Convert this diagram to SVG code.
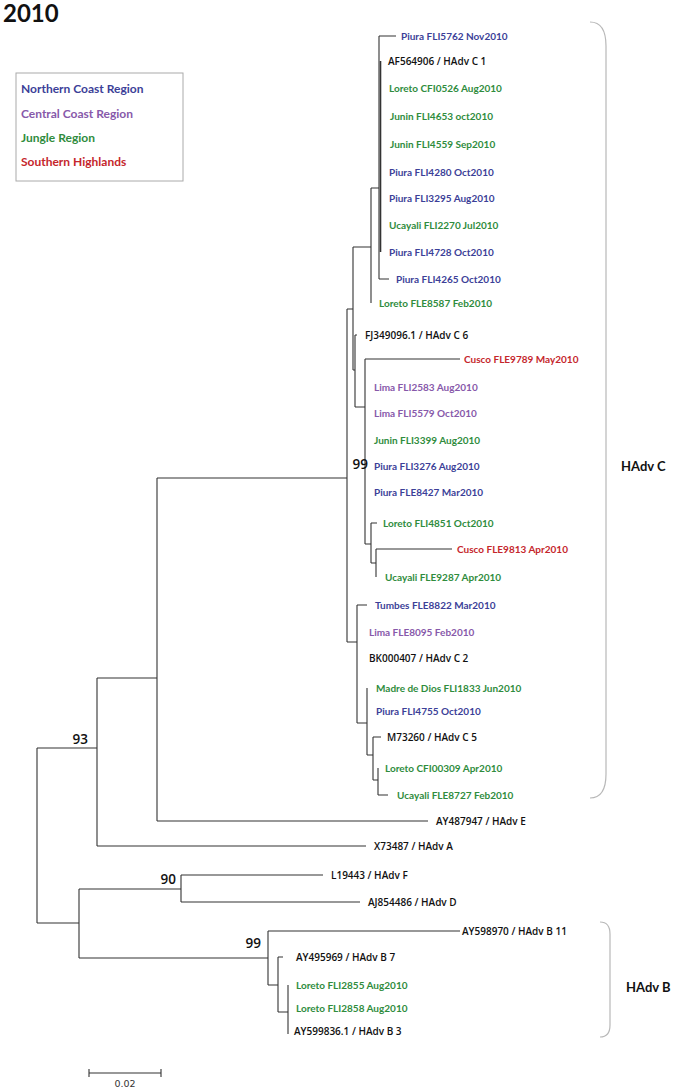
<svg xmlns="http://www.w3.org/2000/svg" width="674" height="1092" viewBox="0 0 674 1092">
<style>
text{font-family:Lato,"Liberation Sans",sans-serif;font-weight:700}
.lf{font-size:10px}
.bk{font-family:"Open Sans","Liberation Sans",sans-serif;font-weight:600;font-size:10px;fill:#111}
.nb{fill:#3c3f98}
.cc{fill:#8759aa}
.jg{fill:#2f8c3d}
.sh{fill:#c5262c}
.bs{font-family:"Open Sans","Liberation Sans",sans-serif;font-weight:600;font-size:13.5px;fill:#111;text-anchor:end}
.lg{font-size:12px}
.br{fill:none;stroke:#b8b8b8;stroke-width:1.2}
.cl{font-size:13px;fill:#111}
.tr{fill:none;stroke:#333;stroke-width:1.1}
</style>
<rect width="674" height="1092" fill="#fff"/>
<text x="3" y="22" style="font-size:24px;fill:#111">2010</text>
<g id="legend">
<rect x="16" y="73" width="167" height="108" fill="#fff" stroke="#aaa" stroke-width="1"/>
<text class="lg nb" x="21" y="93">Northern Coast Region</text>
<text class="lg cc" x="21" y="118">Central Coast Region</text>
<text class="lg jg" x="21" y="142">Jungle Region</text>
<text class="lg sh" x="21" y="166">Southern Highlands</text>
</g>
<g id="connectors" class="tr">
<path d="M37 748V923M37 748H97M37 923H79"/>
<path d="M97 678V846M97 678H157M97 846H366"/>
<path d="M157 478V821M157 478H347M157 821H428"/>
<path d="M347 309V642M347 309H353M347 642H357"/>
<path d="M353 247V370M353 247H371M353 370H355"/>
<path d="M371 188V303M371 188H379"/>
<path d="M379 36V279M379 36H396M379 279H389"/>
<path d="M380.5 61V252" style="stroke-width:1.6"/>
<path d="M355 335V407M355 335H357M355 407H365"/>
<path d="M365 359V544M365 359H460M365 544H371"/>
<path d="M371 523V563M371 523H377M371 563H376"/>
<path d="M376 549V577M376 549H452"/>
<path d="M357 605V723M357 605H367M357 723H367"/>
<path d="M367 688V755M367 755H373"/>
<path d="M373 737V780M373 737H381M373 780H378"/>
<path d="M378 768V795M378 795H388"/>
<path d="M79 889V958M79 889H181M79 958H268"/>
<path d="M181 875V902M181 875H323M181 902H360"/>
<path d="M268 931V985M268 931H460M268 985H278"/>
<path d="M278 957V1012M278 957H283M278 1012H288"/>
<path d="M288 985V1034"/>
</g>
<g id="bootstrap">
<text class="bs" x="88" y="744">93</text>
<text class="bs" x="368" y="469">99</text>
<text class="bs" x="176" y="884">90</text>
<text class="bs" x="261" y="948">99</text>
</g>
<g id="leaves">
<text class="lf nb" x="401" y="39.5">Piura FLI5762 Nov2010</text>
<text class="bk" x="388" y="65">AF564906 / HAdv C 1</text>
<text class="lf jg" x="389" y="91.5">Loreto CFI0526 Aug2010</text>
<text class="lf jg" x="390" y="119.5">Junin FLI4653 oct2010</text>
<text class="lf jg" x="390" y="147.5">Junin FLI4559 Sep2010</text>
<text class="lf nb" x="389" y="175.5">Piura FLI4280 Oct2010</text>
<text class="lf nb" x="389" y="201.5">Piura FLI3295 Aug2010</text>
<text class="lf jg" x="389" y="228.5">Ucayali FLI2270 Jul2010</text>
<text class="lf nb" x="389" y="255.5">Piura FLI4728 Oct2010</text>
<text class="lf nb" x="396" y="282.5">Piura FLI4265 Oct2010</text>
<text class="lf jg" x="379" y="306.5">Loreto FLE8587 Feb2010</text>
<text class="bk" x="365" y="338.5">FJ349096.1 / HAdv C 6</text>
<text class="lf sh" x="464" y="362.5">Cusco FLE9789 May2010</text>
<text class="lf cc" x="374" y="390.5">Lima FLI2583 Aug2010</text>
<text class="lf cc" x="374" y="416.5">Lima FLI5579 Oct2010</text>
<text class="lf jg" x="374" y="443.5">Junin FLI3399 Aug2010</text>
<text class="lf nb" x="374" y="469.5">Piura FLI3276 Aug2010</text>
<text class="lf nb" x="374" y="495.5">Piura FLE8427 Mar2010</text>
<text class="lf jg" x="383" y="526.5">Loreto FLI4851 Oct2010</text>
<text class="lf sh" x="457" y="552.5">Cusco FLE9813 Apr2010</text>
<text class="lf jg" x="385" y="580.5">Ucayali FLE9287 Apr2010</text>
<text class="lf nb" x="375" y="608.5">Tumbes FLE8822 Mar2010</text>
<text class="lf cc" x="369" y="635.5">Lima FLE8095 Feb2010</text>
<text class="bk" x="369" y="661.5">BK000407 / HAdv C 2</text>
<text class="lf jg" x="376" y="691.5">Madre de Dios FLI1833 Jun2010</text>
<text class="lf nb" x="376" y="714.5">Piura FLI4755 Oct2010</text>
<text class="bk" x="387" y="740.5">M73260 / HAdv C 5</text>
<text class="lf jg" x="385" y="771.5">Loreto CFI00309 Apr2010</text>
<text class="lf jg" x="397" y="798.5">Ucayali FLE8727 Feb2010</text>
<text class="bk" x="436" y="824.5">AY487947 / HAdv E</text>
<text class="bk" x="374" y="849.5">X73487 / HAdv A</text>
<text class="bk" x="331" y="878.5">L19443 / HAdv F</text>
<text class="bk" x="368" y="905.5">AJ854486 / HAdv D</text>
<text class="bk" x="462" y="934.5">AY598970 / HAdv B 11</text>
<text class="bk" x="296" y="960.5">AY495969 / HAdv B 7</text>
<text class="lf jg" x="296" y="988.5">Loreto FLI2855 Aug2010</text>
<text class="lf jg" x="296" y="1011.5">Loreto FLI2858 Aug2010</text>
<text class="bk" x="294" y="1034.5">AY599836.1 / HAdv B 3</text>
</g>
<g id="clade-C">
<path class="br" d="M590 22Q606 22 606 46V774Q606 798 590 798"/>
<text class="cl" x="621" y="471">HAdv C</text>
</g>
<g id="clade-B">
<path class="br" d="M600 922Q610 922 610 934V1025Q610 1037 600 1037"/>
<text class="cl" x="626" y="992">HAdv B</text>
</g>
<g id="scale">
<path class="tr" d="M89 1073H161M89 1069V1077M161 1069V1077"/>
<text x="125" y="1087" style="font-family:'DejaVu Sans',sans-serif;font-weight:400;font-size:9.5px;fill:#333;text-anchor:middle">0.02</text>
</g>
</svg>
